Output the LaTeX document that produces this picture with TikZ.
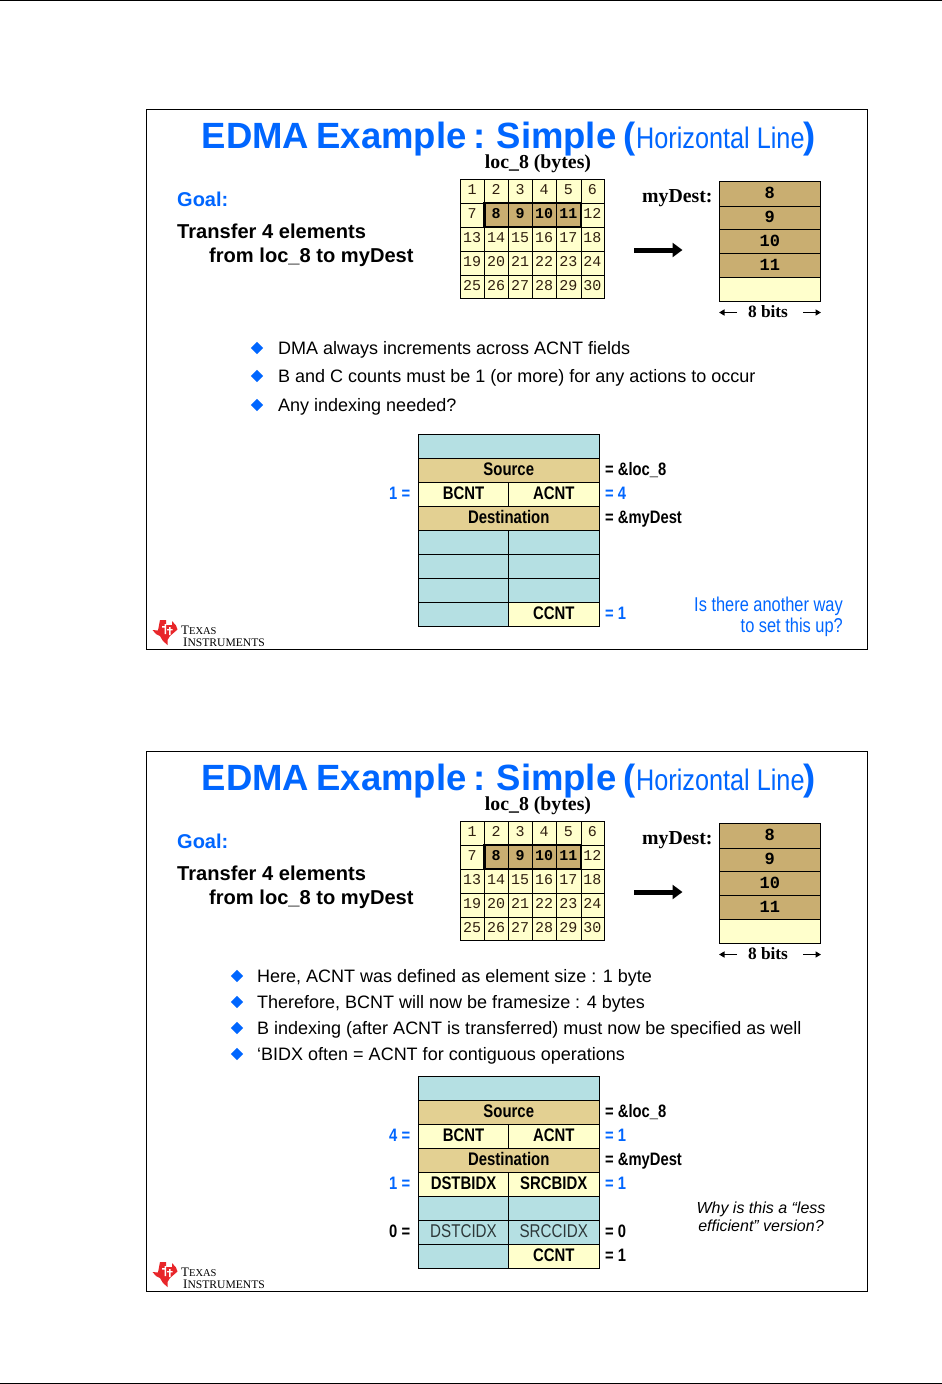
\documentclass[tikz,border=0pt]{standalone}
\usepackage{fontspec}
\setmainfont{Liberation Sans}
\newfontfamily\serf{Liberation Serif}
\newfontfamily\monof{Liberation Mono}
\newfontfamily\narrowf[FakeStretch=0.82]{Liberation Sans}
\newfontfamily\subf[FakeStretch=0.85]{Liberation Sans}
\usetikzlibrary{arrows.meta,shapes.geometric}
\definecolor{tiblue}{HTML}{0066FF}
\definecolor{teal}{HTML}{B5E0E3}
\definecolor{tanl}{HTML}{E3D092}
\definecolor{pale}{HTML}{FFFFCC}
\definecolor{tand}{HTML}{C9AE71}
\definecolor{tired}{HTML}{E8262A}
\tikzset{
 txt/.style={inner sep=0pt,anchor=base west},
 ctr/.style={inner sep=0pt,anchor=center},
 lab/.style={inner sep=0pt,anchor=base west,font=\narrowf\bfseries\fontsize{18}{18}\selectfont},
 bul/.style={fill=tiblue,inner sep=0pt,minimum size=12.5pt,diamond},
 bull/.style={inner sep=0pt,anchor=base west,font=\fontsize{18}{18}\selectfont},
}
\newcommand{\cellshift}{-0.5}
\newcommand{\cellat}[7]{% name,x1,y1,x2,y2,fill,text
 \path[fill=#6,draw=black,line width=1pt] (#2,#3) rectangle (#4,#5);
 \node[ctr] (#1) at ({(#2+#4)/2},{(#3+#5)/2+\cellshift}) {#7};}
\newcommand{\slidebase}[1]{%
 \renewcommand{\cellshift}{-0.5}%
 \draw[black,line width=1pt,fill=white] (146.5,109.5) rectangle (867.5,649.5);
 \node[txt,text=tiblue,font=\bfseries\fontsize{36.5}{36.5}\selectfont] (#1title) at (201.5,148) {\spaceskip=7.3pt\relax EDMA Example : Simple (};
 \node[txt,text=tiblue,font=\subf\fontsize{29.7}{29.7}\selectfont] (#1sub) at (636,148) {Horizontal Line};
 \node[txt,text=tiblue,font=\bfseries\fontsize{36.5}{36.5}\selectfont] (#1par) at (803,148) {)};
 \node[ctr,font=\serf\bfseries\fontsize{19.8}{19.8}\selectfont] (#1loc) at (538,164) {loc\_8 (bytes)};
 \node[txt,text=tiblue,font=\bfseries\fontsize{20}{20}\selectfont] (#1goal) at (177,206) {Goal:};
 \node[txt,font=\bfseries\fontsize{20.1}{20.1}\selectfont] (#1tr) at (177,238) {Transfer 4 elements};
 \node[txt,font=\bfseries\fontsize{20.1}{20.1}\selectfont] (#1fr) at (209,262) {from loc\_8 to myDest};
 % byte grid
 \foreach \r/\ya/\yb in {0/179/203,1/203/227,2/227/251,3/251/275,4/275/298.5}{
  \foreach \c/\xa/\xb in {0/460.5/484.5,1/484.5/508.5,2/508.5/532.5,3/532.5/556.5,4/556.5/581,5/581/604.5}{
   \pgfmathtruncatemacro{\num}{\r*6+\c+1}
   \path[fill=pale,draw=black,line width=0.9pt] (\xa,\ya) rectangle (\xb,\yb);
   \ifnum\num<8 \node[ctr,font=\monof\fontsize{15}{15}\selectfont,text=black!75!brown] (#1g\num) at ({(\xa+\xb)/2-0.5},{(\ya+\yb)/2-1.5}) {\num};\fi
   \ifnum\num>11 \node[ctr,font=\monof\fontsize{15}{15}\selectfont,text=black!75!brown] (#1g\num) at ({(\xa+\xb)/2-0.5},{(\ya+\yb)/2-1.5}) {\num};\fi
  }}
 \foreach \nn/\xa/\xb in {8/484.5/508.5,9/508.5/532.5,10/532.5/556.5,11/556.5/581}{
   \path[fill=tand,draw=black,line width=0.9pt] (\xa,203) rectangle (\xb,227);
   \node[ctr,font=\monof\bfseries\fontsize{15}{15}\selectfont] (#1h\nn) at ({(\xa+\xb)/2-0.5},213.5) {\nn};
 }
 \draw[black,line width=2.4pt] (484.5,203) rectangle (581,227);
 % destination
 \node[txt,font=\serf\bfseries\fontsize{19.8}{19.8}\selectfont] (#1my) at (642,202.5) {myDest:};
 \cellat{#1d8}{719}{181.5}{820.5}{206}{tand}{\monof\bfseries\fontsize{17}{17}\selectfont 8}
 \cellat{#1d9}{719}{206}{820.5}{229.5}{tand}{\monof\bfseries\fontsize{17}{17}\selectfont 9}
 \cellat{#1d10}{719}{229.5}{820.5}{253}{tand}{\monof\bfseries\fontsize{17}{17}\selectfont 10}
 \cellat{#1d11}{719}{253}{820.5}{277.5}{tand}{\monof\bfseries\fontsize{17}{17}\selectfont 11}
 \cellat{#1d12}{719}{277.5}{820.5}{301.5}{pale}{}
 % big arrow
 \coordinate (#1aa) at (634,250); \coordinate (#1ab) at (682.5,250);
 \draw[black,line width=5pt,-{Triangle[length=10pt,width=14pt]}] (#1aa) -- (#1ab);
 \node[ctr,font=\serf\bfseries\fontsize{17.3}{17.3}\selectfont] (#1bits) at (768,312) {8 bits};
 \coordinate (#1ba) at (737,312.5); \coordinate (#1bb) at (719,312.5);
 \coordinate (#1bc) at (803,312.5); \coordinate (#1bd) at (821,312.5);
 \draw[black,line width=1.5pt,-{Triangle[length=5.5pt,width=6pt]}] (#1ba) -- (#1bb);
 \draw[black,line width=1.5pt,-{Triangle[length=5.5pt,width=6pt]}] (#1bc) -- (#1bd);
 % logo
 \path[fill=tired] (160,620) -- (166,620) -- (166,625) -- (172,625) -- (172,621) -- (176,625.5) -- (177.5,629.5) -- (173.5,633) -- (170,636) -- (167.5,640) -- (167.5,645) -- (163,641) -- (160,636) -- (156,634) -- (152.5,630) -- (158,630.5) -- cycle;
 \path[fill=white] (164.5,624) rectangle (166,634) (162,626) rectangle (165,627.5) (169,627) rectangle (170.5,635) (167,629) rectangle (172.5,630.3);
 \node[txt,font=\serf\fontsize{13}{13}\selectfont] (#1ti1) at (181,634.5) {T\fontsize{10.5}{10.5}\selectfont EXAS};
 \node[txt,font=\serf\fontsize{13}{13}\selectfont] (#1ti2) at (183,646.5) {I\fontsize{11.6}{11.6}\selectfont NSTRUMENTS};
 \renewcommand{\cellshift}{-1.5}%
}
\newcommand{\fullrow}[5]{\cellat{#1}{418.5}{#2}{599}{#3}{#4}{#5}}
\newcommand{\halfrow}[7]{\cellat{#1l}{418.5}{#2}{508.5}{#3}{#4}{#5}\cellat{#1r}{508.5}{#2}{599}{#3}{#6}{#7}}
\newcommand{\bb}{\narrowf\bfseries\fontsize{18.2}{18.2}\selectfont}
\newcommand{\nr}{\narrowf\color{black!75!teal}\fontsize{18.5}{18.5}\selectfont}
\begin{document}
\begin{tikzpicture}[x=1pt,y=-1pt]
\useasboundingbox (0,0) rectangle (942,1384);
\fill[white] (0,0) rectangle (942,1384);
\coordinate (tl) at (0,0.5); \coordinate (tr) at (942,0.5);
\coordinate (bl) at (0,1383.5); \coordinate (br) at (942,1383.5);
\draw[black,line width=1pt] (tl) -- (tr);
\draw[black,line width=1pt] (bl) -- (br);
% ---------- slide 1
\slidebase{a}
\foreach \n/\y/\t in {1/348/{DMA always increments across ACNT fields},2/376/{B and C counts must be 1 (or more) for any actions to occur},3/405/{Any indexing needed?}}{
 \node[bul] (ab\n) at (257,\y) {};
 \node[bull] (at\n) at (278,\y+6) {\t};
}
\cellat{ar0}{418.5}{434.5}{599}{458.5}{teal}{}
\fullrow{ar1}{458.5}{482.5}{tanl}{\bb Source}
\halfrow{ar2}{482.5}{506.5}{pale}{\bb BCNT}{pale}{\bb ACNT}
\fullrow{ar3}{506.5}{530.5}{tanl}{\bb Destination}
\halfrow{ar4}{530.5}{554.5}{teal}{}{teal}{}
\halfrow{ar5}{554.5}{578.5}{teal}{}{teal}{}
\halfrow{ar6}{578.5}{602.5}{teal}{}{teal}{}
\halfrow{ar7}{602.5}{626.5}{teal}{}{pale}{\bb CCNT}
\draw[black,line width=1.8pt] (418.5,602.5) -- (599,602.5);
\node[lab] (av1) at (605,475.5) {= \&loc\_8};
\node[lab,text=tiblue] (av2) at (605,499.5) {= 4};
\node[lab] (av3) at (605,523.5) {= \&myDest};
\node[lab,text=tiblue] (av4) at (605,619.5) {= 1};
\node[lab,text=tiblue] (av5) at (389,499.5) {1 =};
\node[inner sep=0pt,anchor=base east,text=tiblue,align=right,font=\narrowf\fontsize{20}{20.5}\selectfont] (aq) at (843,632) {Is there another way\\to set this up?};
% ---------- slide 2
\begin{scope}[yshift=-642pt]
\slidebase{b}
\foreach \n/\y/\t in {1/334/{Here, ACNT was defined as element size : 1 byte},2/360/{Therefore, BCNT will now be framesize : 4 bytes},3/386/{B indexing (after ACNT is transferred) must now be specified as well},4/412/{‘BIDX often = ACNT for contiguous operations}}{
 \node[bul] (bb\n) at (237,\y) {};
 \node[bull] (bt\n) at (257,\y+6) {\t};
}
\cellat{br0}{418.5}{434.5}{599}{458.5}{teal}{}
\fullrow{br1}{458.5}{482.5}{tanl}{\bb Source}
\halfrow{br2}{482.5}{506.5}{pale}{\bb BCNT}{pale}{\bb ACNT}
\fullrow{br3}{506.5}{530.5}{tanl}{\bb Destination}
\halfrow{br4}{530.5}{554.5}{pale}{\bb DSTBIDX}{pale}{\bb SRCBIDX}
\halfrow{br5}{554.5}{578.5}{teal}{}{teal}{}
\halfrow{br6}{578.5}{602.5}{teal}{\nr DSTCIDX}{teal}{\nr SRCCIDX}
\halfrow{br7}{602.5}{626.5}{teal}{}{pale}{\bb CCNT}
\draw[black,line width=1.8pt] (418.5,602.5) -- (599,602.5);
\node[lab] (bv1) at (605,475.5) {= \&loc\_8};
\node[lab,text=tiblue] (bv2) at (605,499.5) {= 1};
\node[lab] (bv3) at (605,523.5) {= \&myDest};
\node[lab,text=tiblue] (bv4) at (605,547.5) {= 1};
\node[lab] (bv5) at (605,595.5) {= 0};
\node[lab] (bv6) at (605,619.5) {= 1};
\node[lab,text=tiblue] (bv7) at (389,499.5) {4 =};
\node[lab,text=tiblue] (bv8) at (389,547.5) {1 =};
\node[lab] (bv9) at (389,595.5) {0 =};
\node[inner sep=0pt,anchor=center,align=center,font=\itshape\fontsize{16}{18}\selectfont] (bq) at (761,574.5) {Why is this a “less\\efficient” version?};
\end{scope}
\end{tikzpicture}
\end{document}
